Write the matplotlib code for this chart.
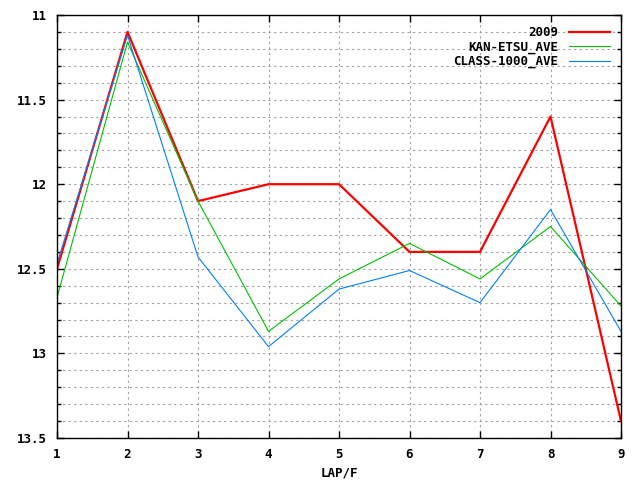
import matplotlib
matplotlib.use("Agg")
import matplotlib.pyplot as plt
from matplotlib.ticker import MultipleLocator

# Lap data
laps = [1, 2, 3, 4, 5, 6, 7, 8, 9]
y2009 = [12.5, 11.1, 12.1, 12.0, 12.0, 12.4, 12.4, 11.6, 13.4]
kan_etsu_ave = [12.67, 11.16, 12.1, 12.87, 12.56, 12.35, 12.56, 12.25, 12.72]
class_1000_ave = [12.47, 11.12, 12.43, 12.96, 12.62, 12.51, 12.7, 12.15, 12.87]

plt.rcParams["font.family"] = ["DejaVu Sans Mono"]
plt.rcParams["font.weight"] = "bold"

fig = plt.figure(figsize=(6.4, 4.8), dpi=100)
ax = fig.add_axes([57 / 640, 1 - 438 / 480, (621 - 57) / 640, (438 - 15) / 480])

ax.plot(laps, y2009, color="#ff0000", lw=1.6, label="2009")
ax.plot(laps, kan_etsu_ave, color="#00c000", lw=0.8, label="KAN-ETSU_AVE")
ax.plot(laps, class_1000_ave, color="#0080ff", lw=0.8, label="CLASS-1000_AVE")

ax.set_xlim(1, 9)
ax.set_ylim(13.5, 11)
ax.xaxis.set_major_locator(MultipleLocator(1))
ax.yaxis.set_minor_locator(MultipleLocator(0.1))
ax.set_yticks([11, 11.5, 12, 12.5, 13, 13.5])
ax.set_yticklabels(["11", "11.5", "12", "12.5", "13", "13.5"])
ax.set_yticklabels([], minor=True)

ax.grid(True, which="major", axis="x", color="#a0a0a0", ls=(0, (2, 3)), lw=0.8)
ax.grid(True, which="both", axis="y", color="#a0a0a0", ls=(0, (2, 3)), lw=0.8)
ax.set_axisbelow(True)

ax.tick_params(which="major", direction="in", length=5, width=1,
               top=True, right=True, labelsize=9, pad=7)
ax.tick_params(which="minor", direction="in", length=3, width=1,
               top=False, right=True)
for s in ax.spines.values():
    s.set_linewidth(1.0)

ax.set_xlabel("LAP/F", fontsize=9, fontweight="bold", labelpad=4)

leg = ax.legend(loc="upper right", frameon=False, markerfirst=False,
                handlelength=3.3, fontsize=9, labelspacing=0.1,
                borderaxespad=0.5, handletextpad=0.8)
for t in leg.get_texts():
    t.set_ha("right")
leg._legend_box.align = "right"

fig.savefig("out.png", dpi=100)
